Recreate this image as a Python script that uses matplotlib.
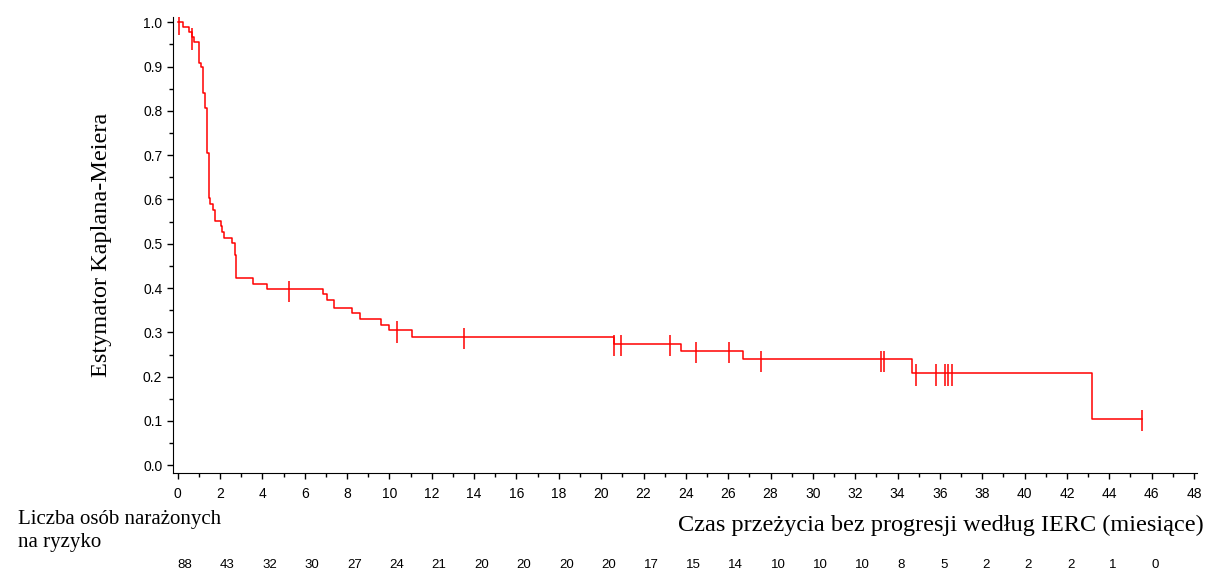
import numpy as np
import matplotlib
matplotlib.use("Agg")
import matplotlib.pyplot as plt
from matplotlib.ticker import MultipleLocator, FormatStrFormatter
import matplotlib.transforms as mtransforms

# krok krzywej Kaplana-Meiera (czas w miesiącach, wartość po kroku)
czas_krok = [0.0, 0.27, 0.55, 0.66, 0.79, 1.01, 1.12, 1.20, 1.31, 1.39, 1.47, 1.54,
             1.66, 1.77, 2.03, 2.09, 2.20, 2.57, 2.69, 2.77, 3.56, 4.23, 6.88,
             7.04, 7.36, 8.25, 8.61, 9.60, 10.00, 11.05, 20.61, 23.76, 26.70,
             34.67, 43.20]
przezycie = [1.0, 0.989, 0.977, 0.966, 0.955, 0.909, 0.898, 0.841, 0.807, 0.705,
             0.603, 0.590, 0.576, 0.551, 0.539, 0.526, 0.513, 0.501, 0.475,
             0.422, 0.409, 0.397, 0.386, 0.372, 0.356, 0.343, 0.331, 0.317,
             0.305, 0.290, 0.274, 0.258, 0.239, 0.208, 0.1045]
czas_koniec = 45.55

# obserwacje ocenzurowane
cenzura = [0.05, 0.66, 5.24, 10.35, 13.54, 20.61, 20.94, 23.26, 24.48, 26.06,
           27.54, 33.22, 33.38, 34.85, 35.81, 36.24, 36.37, 36.59, 45.55]

# liczba osób narażonych na ryzyko
czas_ryzyko = list(range(0, 48, 2))
liczba_ryzyko = [88, 43, 32, 30, 27, 24, 21, 20, 20, 20, 20, 17, 15, 14, 10, 10,
                 10, 8, 5, 2, 2, 2, 1, 0]

fig = plt.figure(figsize=(12.16, 5.81), dpi=100)
ax = fig.add_axes([0.142, 0.1864, 0.8425, 0.785])

xs = czas_krok + [czas_koniec]
ys = przezycie + [przezycie[-1]]
ax.step(xs, ys, where="post", color="red", lw=1.1)

# znaczniki cenzurowania
idx = np.searchsorted(czas_krok, cenzura, side="right") - 1
poziom = np.array(przezycie)[idx]
ax.vlines(cenzura, poziom - 0.028, poziom + 0.02, color="red", lw=1.1)

ax.set_xlim(-0.24, 48.15)
ax.set_ylim(-0.0167, 1.0127)
for s in ["top", "right"]:
    ax.spines[s].set_visible(False)
ax.xaxis.set_major_locator(MultipleLocator(2))
ax.xaxis.set_minor_locator(MultipleLocator(1))
ax.yaxis.set_major_locator(MultipleLocator(0.1))
ax.yaxis.set_minor_locator(MultipleLocator(0.05))
ax.yaxis.set_major_formatter(FormatStrFormatter("%.1f"))
ax.tick_params(which="major", length=4, width=1, labelsize=10)
ax.tick_params(which="minor", length=3, width=1)
ax.tick_params(axis="x", pad=6)
for lab in ax.get_xticklabels() + ax.get_yticklabels():
    lab.set_fontfamily("Liberation Sans")

ax.set_ylabel("Estymator Kaplana-Meiera", family="Liberation Serif", fontsize=17.5,
              labelpad=22)

fig.text(0.015, 0.086, "Liczba osób narażonych\nna ryzyko", family="Liberation Serif",
         fontsize=15, ha="left", va="center", linespacing=1.3)
fig.text(0.99, 0.096, "Czas przeżycia bez progresji według IERC (miesiące)",
         family="Liberation Serif", fontsize=17.5, ha="right", va="center")

trans = mtransforms.blended_transform_factory(ax.transData, fig.transFigure)
for t, n in zip(czas_ryzyko, liczba_ryzyko):
    ax.text(t, 0.027, str(n), transform=trans, ha="left", va="center",
            fontsize=9.5, family="Liberation Sans", clip_on=False)

fig.savefig("out.png", dpi=100)
